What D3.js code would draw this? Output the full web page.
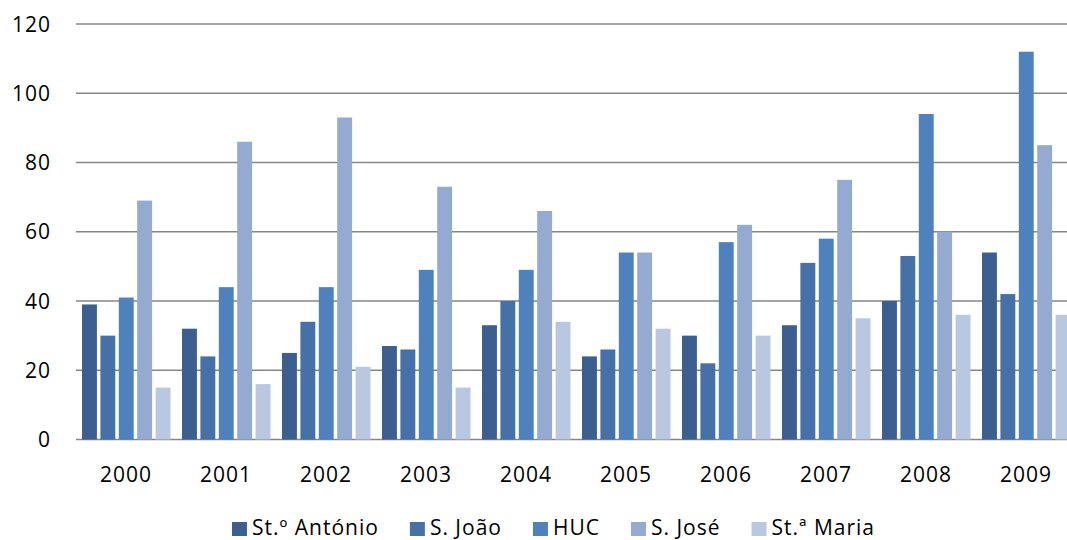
<!DOCTYPE html>
<html>
<head>
<meta charset="utf-8">
<script src="https://cdn.jsdelivr.net/npm/d3@7"></script>
<style>
  body { margin: 0; background: #fff; }
  svg text { font-family: "Open Sans", Lato, sans-serif; fill: #000; letter-spacing: 1px; }
</style>
</head>
<body>
<svg id="chart" width="1067" height="540"></svg>
<script>
const years = ['2000', '2001', '2002', '2003', '2004', '2005', '2006', '2007', '2008', '2009'];
const seriesNames = ['St.º António', 'S. João', 'HUC', 'S. José', 'St.ª Maria'];
const stAntonio = [39, 32, 25, 27, 33, 24, 30, 33, 40, 54];
const sJoao = [30, 24, 34, 26, 40, 26, 22, 51, 53, 42];
const huc = [41, 44, 44, 49, 49, 54, 57, 58, 94, 112];
const sJose = [69, 86, 93, 73, 66, 54, 62, 75, 60, 85];
const stMaria = [15, 16, 21, 15, 34, 32, 30, 35, 36, 36];
const yTicks = [0, 20, 40, 60, 80, 100, 120];

const colors = ['#3c5f8f', '#4571a6', '#4f81bd', '#95aad1', '#bac7e0'];
const seriesValues = [stAntonio, sJoao, huc, sJose, stMaria];

const margin = { top: 24, right: -9, bottom: 100.5, left: 76 };
const width = 1067;
const height = 540;
const fontSize = '21px';

const svg = d3.select('#chart');

const x = d3.scaleBand()
  .domain(years)
  .range([margin.left, width - margin.right]);

const xInner = d3.scaleBand()
  .domain(seriesNames)
  .range([6, x.bandwidth() - 5.5])
  .paddingInner(0.19);

const y = d3.scaleLinear()
  .domain([0, 120])
  .range([height - margin.bottom, margin.top]);

// gridlines
svg.append('g')
  .attr('class', 'grid')
  .selectAll('line')
  .data(yTicks)
  .join('line')
    .attr('x1', margin.left)
    .attr('x2', width)
    .attr('y1', (d) => y(d))
    .attr('y2', (d) => y(d))
    .attr('stroke', '#868686')
    .attr('stroke-width', 1.5);

// y labels
svg.append('g')
  .selectAll('text')
  .data(yTicks)
  .join('text')
    .attr('x', 51)
    .attr('y', (d) => y(d))
    .attr('dy', '0.36em')
    .attr('text-anchor', 'end')
    .style('font-size', fontSize)
    .text((d) => d);

// bars
const groups = svg.append('g')
  .selectAll('g')
  .data(years)
  .join('g')
    .attr('transform', (d) => `translate(${x(d)},0)`);

groups.selectAll('rect')
  .data((d, i) => seriesNames.map((s, j) => ({ s, j, v: seriesValues[j][i] })))
  .join('rect')
    .attr('x', (d) => xInner(d.s))
    .attr('width', xInner.bandwidth())
    .attr('y', (d) => y(d.v))
    .attr('height', (d) => y(0) - y(d.v))
    .attr('fill', (d) => colors[d.j]);

// x labels
svg.append('g')
  .selectAll('text')
  .data(years)
  .join('text')
    .attr('x', (d) => x(d) + x.bandwidth() / 2)
    .attr('y', 482)
    .attr('text-anchor', 'middle')
    .style('font-size', fontSize)
    .text((d) => d);

// legend, centred under the plot
const legend = svg.append('g').attr('class', 'legend');
let lx = 0;
seriesNames.forEach((name, i) => {
  const item = legend.append('g').attr('transform', `translate(${lx},0)`);
  item.append('rect')
    .attr('x', 0)
    .attr('y', 522)
    .attr('width', 15)
    .attr('height', 14)
    .attr('fill', colors[i]);
  const t = item.append('text')
    .attr('x', 20)
    .attr('y', 535)
    .style('font-size', fontSize)
    .text(name);
  lx += 20 + t.node().getComputedTextLength() + (i < seriesNames.length - 1 ? 31 : 0);
});
legend.attr('transform', `translate(${553.5 - lx / 2},0)`);
</script>
</body>
</html>
